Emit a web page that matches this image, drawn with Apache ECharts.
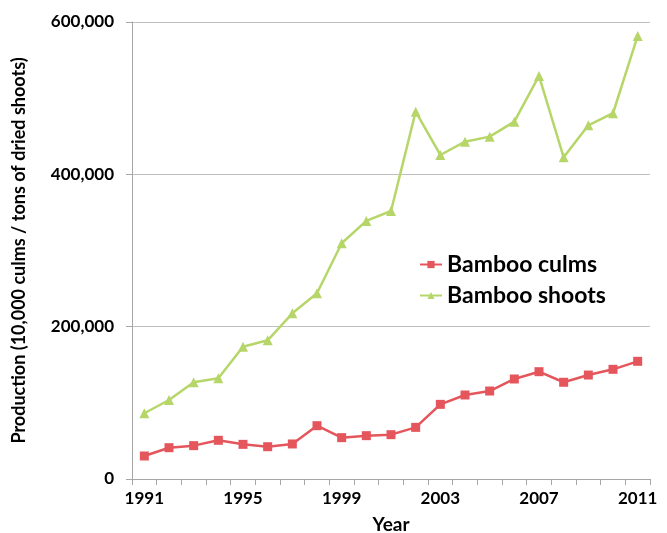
<!DOCTYPE html>
<html>
<head>
<meta charset="utf-8">
<script src="https://cdn.jsdelivr.net/npm/echarts@6/dist/echarts.min.js"></script>
<style>
  html, body { margin: 0; padding: 0; background: #fff; }
  #chart { width: 667px; height: 533px; }
</style>
</head>
<body>
<div id="chart"></div>
<script>
// Annual bamboo production, 1991-2011
const years = ['1991','1992','1993','1994','1995','1996','1997','1998','1999','2000',
               '2001','2002','2003','2004','2005','2006','2007','2008','2009','2010','2011'];
// 10,000 culms
const culms = [30200, 41100, 43800, 50800, 45500, 42400, 46000, 70000, 54300, 56900,
               58200, 67800, 98000, 110300, 115500, 131300, 140900, 127000, 136500, 144000, 154500];
// tons of dried shoots
const shoots = [86300, 103700, 127000, 132200, 173700, 182100, 217500, 243800, 309500, 338800,
                351900, 482300, 425400, 442900, 449500, 469200, 529200, 422400, 464400, 480200, 581700];

const FONT = 'Lato';
const chart = echarts.init(document.getElementById('chart'), null, { renderer: 'canvas' });
chart.setOption({
  animation: false,
  backgroundColor: '#ffffff',
  textStyle: { fontFamily: FONT },
  grid: { left: 132, right: 17, top: 22, bottom: 54, containLabel: false, outerBoundsMode: 'none' },
  legend: {
    orient: 'vertical',
    left: 414,
    top: 248,
    itemGap: 8,
    itemWidth: 22,
    itemHeight: 9,
    textStyle: { fontFamily: FONT, fontSize: 23, fontWeight: 'bold', color: '#000' },
    data: ['Bamboo culms', 'Bamboo shoots']
  },
  xAxis: {
    type: 'category',
    data: years,
    boundaryGap: true,
    name: 'Year',
    nameLocation: 'middle',
    nameGap: 36,
    nameTextStyle: { fontFamily: FONT, fontSize: 19, fontWeight: 'bold', color: '#000' },
    axisLine: { lineStyle: { color: '#A6A6A6', width: 1 } },
    axisTick: { show: true, interval: 0, length: 6, lineStyle: { color: '#A6A6A6' } },
    axisLabel: { interval: 3, margin: 11, fontFamily: FONT, fontSize: 17, fontWeight: 'bold', color: '#000' },
    splitLine: { show: false }
  },
  yAxis: {
    type: 'value',
    min: 0,
    max: 600000,
    interval: 200000,
    name: 'Production (10,000 culms / tons of dried shoots)',
    nameLocation: 'middle',
    nameGap: 104,
    nameTextStyle: { fontFamily: FONT, fontSize: 18, fontWeight: 'bold', color: '#000' },
    axisLine: { show: true, lineStyle: { color: '#A6A6A6', width: 1 } },
    axisTick: { show: true, length: 6, lineStyle: { color: '#A6A6A6' } },
    axisLabel: {
      margin: 18,
      fontFamily: FONT, fontSize: 17, fontWeight: 'bold', color: '#000',
      formatter: v => v.toLocaleString('en-US')
    },
    splitLine: { show: true, lineStyle: { color: '#BFBFBF', width: 1 } }
  },
  series: [
    {
      name: 'Bamboo culms',
      type: 'line',
      data: culms,
      symbol: 'rect',
      symbolSize: 9,
      color: '#E4565C',
      lineStyle: { width: 2.5, color: '#E4565C' },
      itemStyle: { color: '#E4565C' }
    },
    {
      name: 'Bamboo shoots',
      type: 'line',
      data: shoots,
      symbol: 'triangle',
      symbolSize: 10,
      color: '#B7D66A',
      lineStyle: { width: 2.5, color: '#B7D66A' },
      itemStyle: { color: '#B7D66A' }
    }
  ]
});
</script>
</body>
</html>
